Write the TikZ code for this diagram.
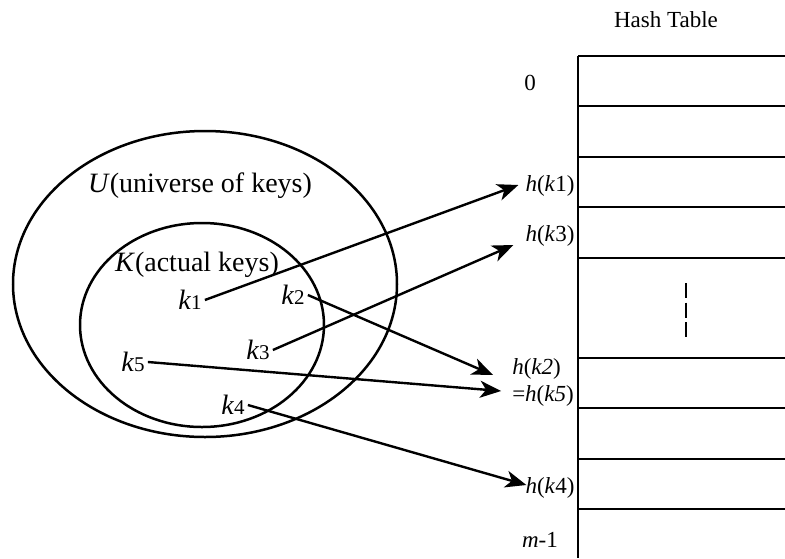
\documentclass[tikz,border=0pt]{standalone}
\usepackage{fontspec}
\setmainfont{Liberation Serif}
\usetikzlibrary{arrows.meta}

\tikzset{
  key/.style={inner sep=3pt, font=\fontsize{28}{30}\selectfont},
  slot/.style={inner sep=1pt, font=\fontsize{23}{27}\selectfont},
  hashto/.style={line width=2.4pt, -{Stealth[length=21pt,width=17pt,inset=6pt]}}
}
\newcommand{\kn}[1]{\textit{k}{\fontsize{21}{24}\selectfont #1}}

\begin{document}
\begin{tikzpicture}[x=1pt, y=-1pt]
\useasboundingbox (0,0) rectangle (785,558);
% the two sets of keys
\draw [line width=2.5pt] (205,284) ellipse [x radius=192, y radius=153];
\draw [line width=2.5pt] (202,325) ellipse [x radius=122, y radius=102];
\node [key] (U) at (200,186) {\textit{U}(universe of keys)};
\node [key] (K) at (197,265) {\textit{K}(actual keys)};
\node [key] (k1) at (190,300) {\kn{1}};
\node [key] (k2) at (293,295) {\kn{2}};
\node [key] (k3) at (258,350) {\kn{3}};
\node [key] (k4) at (233,405) {\kn{4}};
\node [key] (k5) at (133,362) {\kn{5}};

% table with its slots
\node [slot] (title) at (666,20) {Hash Table};
\draw [line width=2.8pt] (578,56) -- (578,558);
\foreach \y in {56,106,157,207,258,358,408,459,509}
  \draw [line width=2.8pt] (578,\y) -- (785,\y);
\draw [line width=2.2pt, dash pattern=on 15pt off 4.5pt] (686,283) -- (686,338);

\node [slot] (r0) at (530,83) {0};
\node [slot] (hk1) at (550,186) {\textit{h}(\textit{k}1)};
\node [slot] (hk3) at (550,236) {\textit{h}(\textit{k}3)};
\node [slot, align=left] (hk25) at (543,382) {\textit{h}(\textit{k2})\\=\textit{h}(\textit{k5})};
\node [slot] (hk4) at (550,488) {\textit{h}(\textit{k}4)};
\node [slot] (rm) at (540,540) {\textit{m}-1};

% hashing the keys
\draw [hashto] (k1.east) -- ([shift={(-6,-1)}]hk1.west);
\draw [hashto] (k3.east) -- ([shift={(-11,9)}]hk3.west);
\draw [hashto] (k2.east) -- ([shift={(-18,-7)}]hk25.west);
\draw [hashto] (k5.east) -- ([shift={(-10,9)}]hk25.west);
\draw [hashto] (k4.east) -- ([shift={(2,-3)}]hk4.west);
\end{tikzpicture}
\end{document}
